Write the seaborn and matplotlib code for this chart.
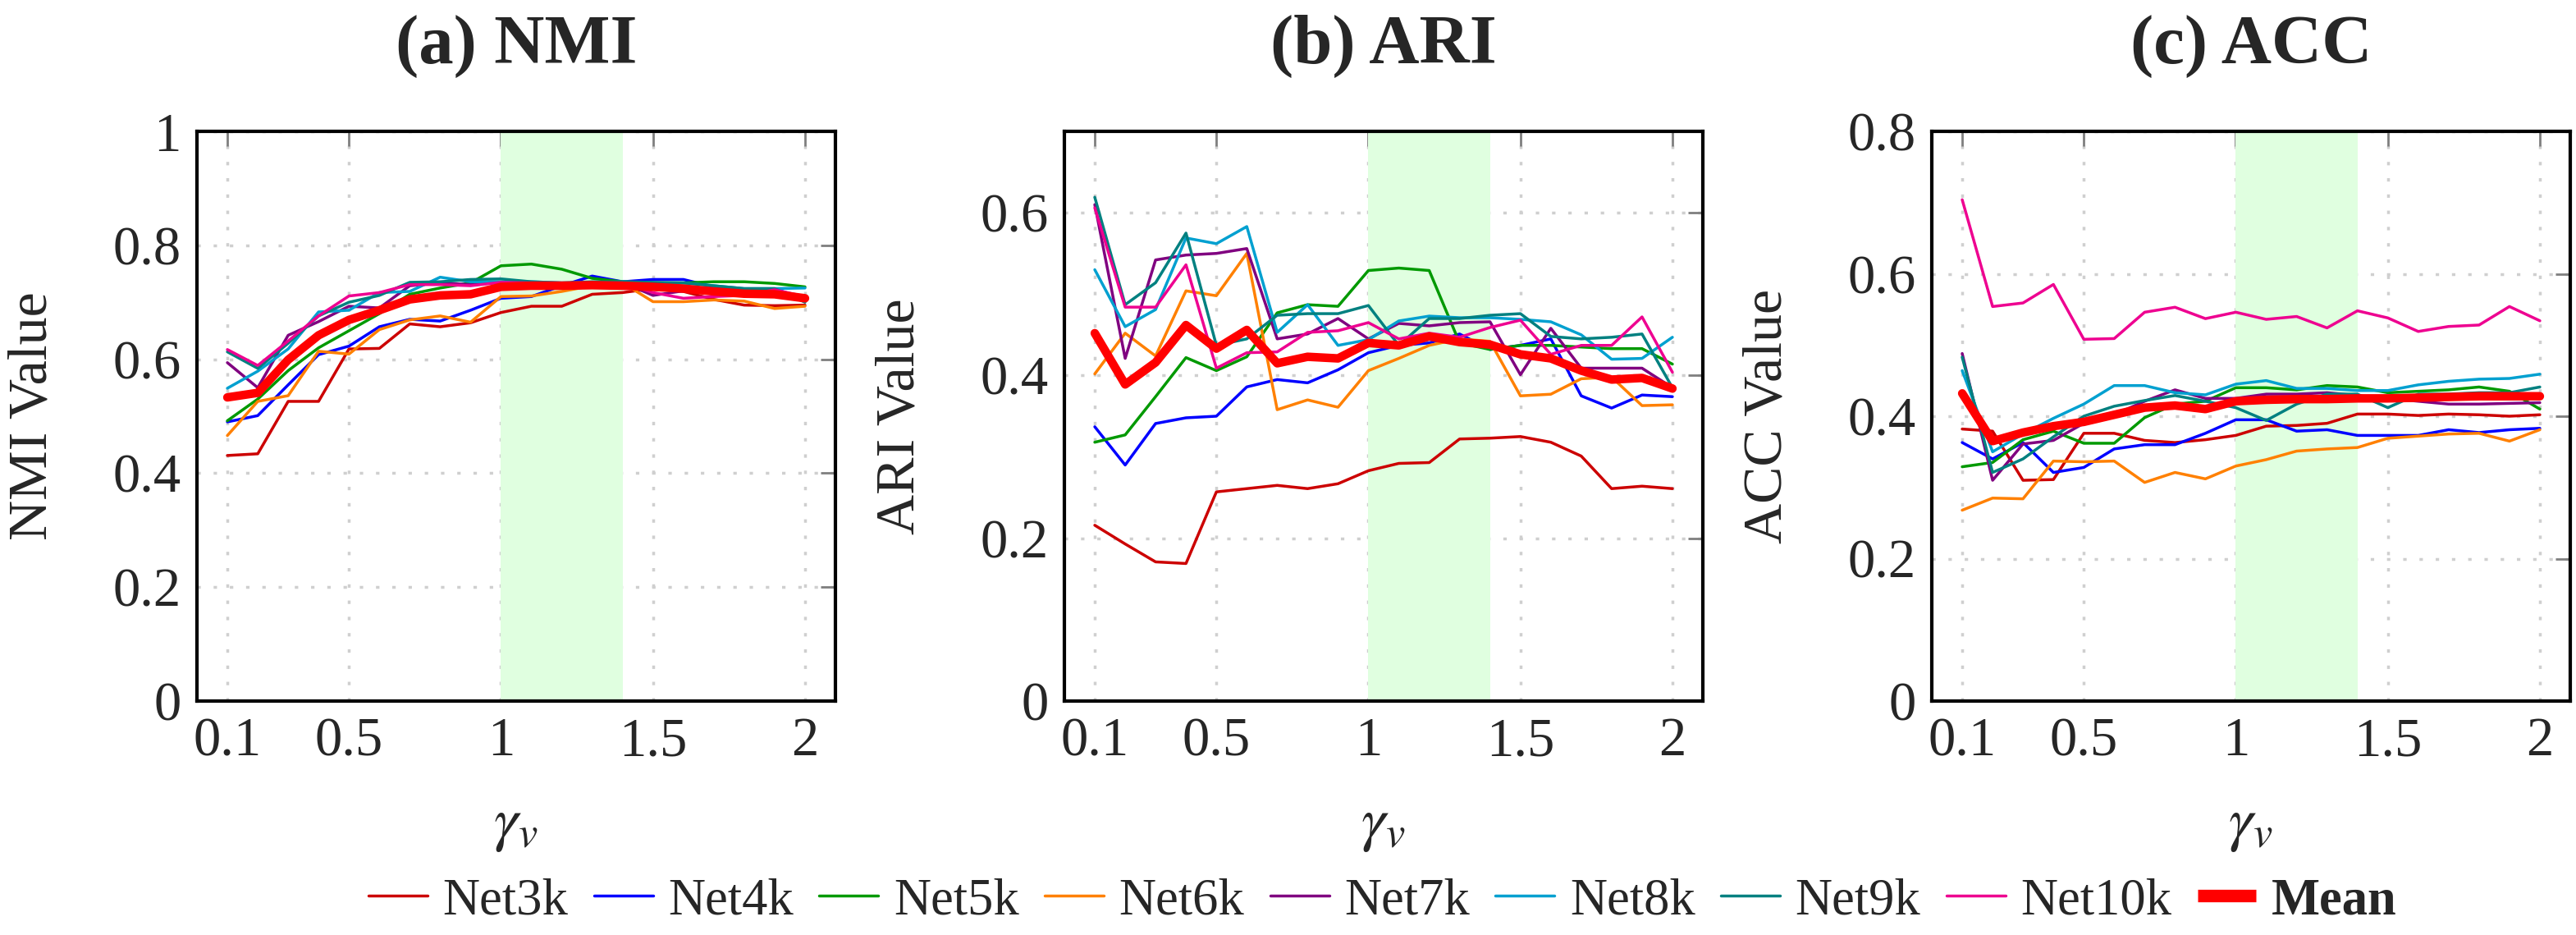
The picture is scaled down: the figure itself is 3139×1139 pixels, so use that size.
import matplotlib
matplotlib.use('Agg')
import matplotlib.pyplot as plt
import seaborn as sns
import pandas as pd
from matplotlib.lines import Line2D

# gamma_v values on the x axis
gamma = [0.1, 0.2, 0.3, 0.4, 0.5, 0.6, 0.7, 0.8, 0.9, 1.0,
         1.1, 1.2, 1.3, 1.4, 1.5, 1.6, 1.7, 1.8, 1.9, 2.0]

nets = ['Net3k', 'Net4k', 'Net5k', 'Net6k', 'Net7k', 'Net8k', 'Net9k', 'Net10k']
net_colors = ['#cc0000', '#0000ff', '#009900', '#ff8000', '#800080', '#00a0d0', '#008080', '#ee0090']

# (a) NMI
nmi_net3k = [0.431, 0.434, 0.526, 0.526, 0.618, 0.619, 0.662, 0.657, 0.664, 0.682,
             0.693, 0.693, 0.714, 0.717, 0.724, 0.719, 0.705, 0.695, 0.694, 0.695]
nmi_net4k = [0.490, 0.501, 0.555, 0.608, 0.623, 0.657, 0.670, 0.667, 0.686, 0.707,
             0.710, 0.729, 0.746, 0.736, 0.740, 0.740, 0.727, 0.722, 0.723, 0.707]
nmi_net5k = [0.492, 0.530, 0.580, 0.620, 0.650, 0.680, 0.714, 0.725, 0.734, 0.764,
             0.767, 0.758, 0.742, 0.736, 0.734, 0.734, 0.736, 0.736, 0.733, 0.727]
nmi_net6k = [0.466, 0.526, 0.536, 0.614, 0.609, 0.652, 0.669, 0.676, 0.665, 0.710,
             0.711, 0.719, 0.729, 0.734, 0.701, 0.701, 0.704, 0.702, 0.689, 0.693]
nmi_net7k = [0.594, 0.550, 0.642, 0.666, 0.693, 0.690, 0.729, 0.734, 0.731, 0.735,
             0.730, 0.730, 0.735, 0.735, 0.712, 0.720, 0.715, 0.715, 0.715, 0.710]
nmi_net8k = [0.549, 0.579, 0.618, 0.683, 0.686, 0.717, 0.719, 0.744, 0.736, 0.736,
             0.736, 0.734, 0.734, 0.736, 0.734, 0.734, 0.729, 0.724, 0.724, 0.725]
nmi_net9k = [0.613, 0.584, 0.628, 0.676, 0.700, 0.712, 0.735, 0.736, 0.740, 0.741,
             0.736, 0.734, 0.736, 0.736, 0.735, 0.734, 0.729, 0.724, 0.724, 0.700]
nmi_net10k = [0.617, 0.589, 0.632, 0.676, 0.711, 0.717, 0.731, 0.731, 0.729, 0.735,
              0.734, 0.734, 0.734, 0.734, 0.717, 0.707, 0.710, 0.712, 0.722, 0.710]
nmi_mean = [0.533, 0.541, 0.599, 0.642, 0.669, 0.686, 0.705, 0.712, 0.714, 0.727,
            0.729, 0.729, 0.730, 0.729, 0.727, 0.724, 0.719, 0.715, 0.714, 0.707]

# (b) ARI
ari_net3k = [0.216, 0.193, 0.171, 0.169, 0.257, 0.261, 0.265, 0.261, 0.267, 0.283,
             0.292, 0.293, 0.322, 0.323, 0.325, 0.318, 0.301, 0.261, 0.264, 0.261]
ari_net4k = [0.337, 0.290, 0.341, 0.348, 0.350, 0.386, 0.395, 0.391, 0.407, 0.428,
             0.437, 0.440, 0.451, 0.432, 0.437, 0.445, 0.375, 0.360, 0.376, 0.374]
ari_net5k = [0.318, 0.327, 0.374, 0.422, 0.406, 0.423, 0.477, 0.487, 0.485, 0.529,
             0.532, 0.529, 0.440, 0.432, 0.437, 0.437, 0.435, 0.433, 0.433, 0.414]
ari_net6k = [0.402, 0.452, 0.424, 0.504, 0.498, 0.550, 0.358, 0.370, 0.361, 0.406,
             0.421, 0.437, 0.445, 0.442, 0.375, 0.377, 0.396, 0.398, 0.363, 0.364]
ari_net7k = [0.610, 0.421, 0.542, 0.548, 0.550, 0.556, 0.445, 0.451, 0.470, 0.445,
             0.464, 0.461, 0.465, 0.466, 0.401, 0.458, 0.409, 0.409, 0.409, 0.385]
ari_net8k = [0.530, 0.460, 0.481, 0.569, 0.562, 0.583, 0.453, 0.487, 0.437, 0.444,
             0.467, 0.473, 0.471, 0.471, 0.469, 0.466, 0.450, 0.420, 0.421, 0.447]
ari_net9k = [0.619, 0.487, 0.514, 0.575, 0.437, 0.445, 0.474, 0.476, 0.476, 0.486,
             0.437, 0.470, 0.470, 0.474, 0.476, 0.448, 0.445, 0.447, 0.451, 0.385]
ari_net10k = [0.606, 0.484, 0.484, 0.536, 0.409, 0.428, 0.429, 0.453, 0.455, 0.465,
              0.445, 0.452, 0.447, 0.459, 0.468, 0.426, 0.437, 0.437, 0.472, 0.404]
ari_mean = [0.452, 0.389, 0.416, 0.462, 0.433, 0.456, 0.415, 0.423, 0.421, 0.440,
            0.437, 0.448, 0.441, 0.438, 0.426, 0.421, 0.406, 0.395, 0.397, 0.384]

# (c) ACC
acc_net3k = [0.382, 0.379, 0.310, 0.311, 0.376, 0.376, 0.366, 0.363, 0.367, 0.373,
             0.386, 0.387, 0.390, 0.403, 0.403, 0.401, 0.403, 0.402, 0.400, 0.402]
acc_net4k = [0.363, 0.340, 0.363, 0.321, 0.328, 0.354, 0.360, 0.360, 0.376, 0.395,
             0.395, 0.379, 0.381, 0.373, 0.373, 0.373, 0.381, 0.377, 0.381, 0.383]
acc_net5k = [0.329, 0.335, 0.367, 0.379, 0.362, 0.362, 0.398, 0.417, 0.421, 0.440,
             0.440, 0.437, 0.443, 0.441, 0.433, 0.435, 0.437, 0.441, 0.435, 0.410]
acc_net6k = [0.268, 0.285, 0.284, 0.337, 0.336, 0.337, 0.307, 0.321, 0.312, 0.330,
             0.339, 0.351, 0.354, 0.356, 0.369, 0.372, 0.375, 0.376, 0.365, 0.381]
acc_net7k = [0.488, 0.310, 0.361, 0.366, 0.390, 0.402, 0.421, 0.437, 0.425, 0.425,
             0.431, 0.431, 0.433, 0.429, 0.425, 0.421, 0.417, 0.417, 0.418, 0.419]
acc_net8k = [0.464, 0.350, 0.375, 0.397, 0.417, 0.443, 0.443, 0.433, 0.430, 0.445,
             0.450, 0.439, 0.439, 0.436, 0.436, 0.444, 0.449, 0.452, 0.453, 0.459]
acc_net9k = [0.483, 0.321, 0.340, 0.371, 0.400, 0.414, 0.422, 0.429, 0.421, 0.412,
             0.394, 0.417, 0.431, 0.431, 0.412, 0.431, 0.431, 0.433, 0.433, 0.441]
acc_net10k = [0.704, 0.554, 0.559, 0.585, 0.508, 0.509, 0.546, 0.553, 0.537, 0.546,
              0.536, 0.540, 0.524, 0.548, 0.538, 0.519, 0.526, 0.528, 0.554, 0.534]
acc_mean = [0.432, 0.365, 0.377, 0.386, 0.392, 0.402, 0.412, 0.415, 0.410, 0.421,
            0.423, 0.424, 0.424, 0.425, 0.425, 0.426, 0.427, 0.428, 0.428, 0.428]

panels = [
    ('(a) NMI', 'NMI Value', [nmi_net3k, nmi_net4k, nmi_net5k, nmi_net6k, nmi_net7k,
                              nmi_net8k, nmi_net9k, nmi_net10k], nmi_mean,
     1.0, [0, 0.2, 0.4, 0.6, 0.8, 1], ['0', '0.2', '0.4', '0.6', '0.8', '1']),
    ('(b) ARI', 'ARI Value', [ari_net3k, ari_net4k, ari_net5k, ari_net6k, ari_net7k,
                              ari_net8k, ari_net9k, ari_net10k], ari_mean,
     0.7, [0, 0.2, 0.4, 0.6], ['0', '0.2', '0.4', '0.6']),
    ('(c) ACC', 'ACC Value', [acc_net3k, acc_net4k, acc_net5k, acc_net6k, acc_net7k,
                              acc_net8k, acc_net9k, acc_net10k], acc_mean,
     0.8, [0, 0.2, 0.4, 0.6, 0.8], ['0', '0.2', '0.4', '0.6', '0.8']),
]

sns.set_theme(style='white')
serif = ['Liberation Serif', 'DejaVu Serif']
plt.rcParams['font.family'] = serif
plt.rcParams['mathtext.fontset'] = 'stix'

W, H = 3139, 1139
fig = plt.figure(figsize=(W / 100, H / 100), dpi=100)
palette = dict(zip(nets, net_colors))
lefts = [240, 1297, 2354]
ax_w, ax_top, ax_bot = 778, 160, 854

for (title, ylabel, series, mean, ymax, yticks, ylabels), left in zip(panels, lefts):
    ax = fig.add_axes([left / W, 1 - ax_bot / H, ax_w / W, (ax_bot - ax_top) / H])
    df = pd.DataFrame({
        'gamma': gamma * len(nets),
        'value': [v for s in series for v in s],
        'net': [n for n in nets for _ in gamma],
    })
    ax.set_axisbelow(True)
    ax.grid(True, color='#cfcfcf', linestyle=(0, (1.2, 4.5)), linewidth=2.5)
    ax.axvspan(1.0, 1.4, color='#e0ffe0', lw=0, zorder=1)
    sns.lineplot(data=df, x='gamma', y='value', hue='net', hue_order=nets,
                 palette=palette, linewidth=2.5, estimator=None, legend=False,
                 ax=ax, zorder=3)
    sns.lineplot(x=gamma, y=mean, color='#ff0000', linewidth=7.5, ax=ax, zorder=4)

    ax.set_xlim(0, 2.1)
    ax.set_ylim(0, ymax)
    ax.set_xticks([0.1, 0.5, 1, 1.5, 2])
    ax.set_xticklabels(['0.1', '0.5', '1', '1.5', '2'], fontfamily=serif)
    ax.set_yticks(yticks)
    ax.set_yticklabels(ylabels, fontfamily=serif)
    ax.tick_params(direction='in', length=13, width=2, color='#7f7f7f',
                   top=True, right=True, labelsize=48, pad=14)
    for sp in ax.spines.values():
        sp.set_linewidth(3)
        sp.set_color('black')
        sp.set_zorder(5)

    ax.set_title(title, fontsize=61, fontweight='bold', pad=60, fontfamily=serif)
    ax.set_ylabel(ylabel, fontsize=49, fontfamily=serif)
    ax.yaxis.set_label_coords(-0.218, 0.5)
    ax.set_xlabel(r'$\gamma_v$', fontsize=54)
    ax.xaxis.set_label_coords(0.5, -0.22)
    ax.xaxis.label.set_va('center')

handles = [Line2D([], [], color=c, linewidth=2.5) for c in net_colors]
handles.append(Line2D([], [], color='#ff0000', linewidth=11, solid_capstyle='butt'))
leg = fig.legend(handles, nets + ['Mean'], loc='center', ncol=9, frameon=False,
                 bbox_to_anchor=(1685 / W, 1 - 1098 / H),
                 prop={'family': serif, 'size': 45},
                 handlelength=1.15, handletextpad=0.3, columnspacing=0.5)
leg.get_texts()[-1].set_fontweight('bold')

fig.savefig('out.png', dpi=100)
